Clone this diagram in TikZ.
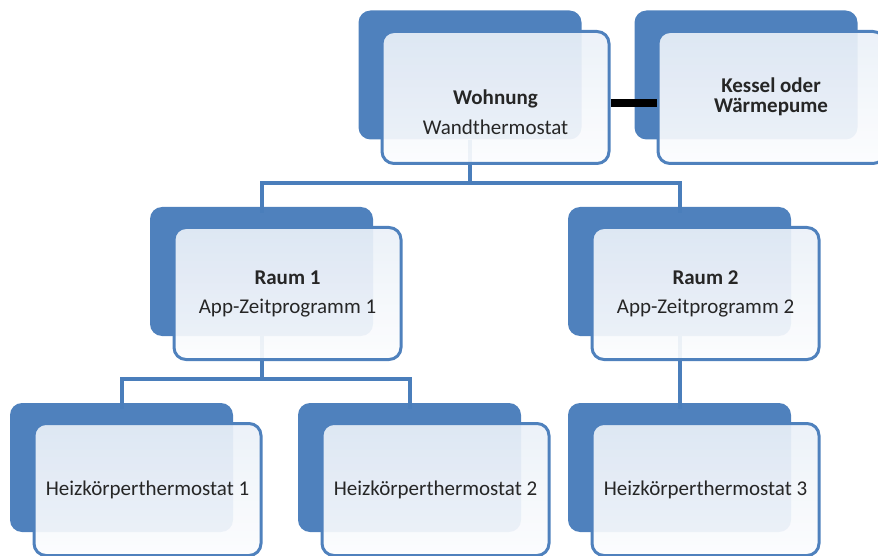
\documentclass[tikz,border=0pt]{standalone}
\usepackage{fontspec}
\setmainfont{Carlito}
\definecolor{obl}{HTML}{4F81BD}
\definecolor{conn}{HTML}{4A7EBB}
\definecolor{frontfill}{HTML}{EAF0F8}
\definecolor{frontlow}{HTML}{FCFDFE}
\tikzset{
  backbox/.style={rectangle, rounded corners=12pt, fill=obl, draw=none,
    minimum width=223pt, minimum height=129pt, inner sep=0pt},
  frontbox/.style={rectangle, rounded corners=12pt, draw=obl, line width=3pt,
    top color=frontfill, bottom color=frontlow, fill opacity=0.92, draw opacity=1,
    minimum width=227pt, minimum height=132pt, inner sep=0pt},
  boxtext/.style={align=center, font=\fontsize{21}{20}\selectfont, text=black!85, inner sep=0pt},
  connector/.style={draw=conn, line width=4pt},
  link/.style={draw=black, line width=8pt},
}
\begin{document}
\begin{tikzpicture}[x=1pt,y=-1pt]
\useasboundingbox (0,0) rectangle (878,556);
% back boxes
\node[backbox] (wohnB) at (470,75) {};
\node[backbox] (kessB) at (746,75) {};
\node[backbox] (raum1B) at (261.5,271.5) {};
\node[backbox] (raum2B) at (679.5,271.5) {};
\node[backbox] (h1B) at (121.5,467.5) {};
\node[backbox] (h2B) at (409.5,467.5) {};
\node[backbox] (h3B) at (679.5,467.5) {};
% connectors
\draw[connector] (wohnB.south) -- ++(0,43) -| ([yshift=-6pt]raum1B.north);
\draw[connector] (wohnB.south) -- ++(0,43) -| ([yshift=-6pt]raum2B.north);
\draw[connector] (raum1B.south) -- ++(0,43) -| ([yshift=-6pt]h1B.north);
\draw[connector] (raum1B.south) -- ++(0,43) -| ([yshift=-6pt]h2B.north);
\draw[connector] (raum2B.south) -- ([yshift=-6pt]h3B.north);
% front boxes
\node[frontbox] (wohnF) at (495.5,97.5) {};
\node[frontbox] (kessF) at (771.5,97.5) {};
\node[frontbox] (raum1F) at (287.5,293.5) {};
\node[frontbox] (raum2F) at (705.5,293.5) {};
\node[frontbox] (h1F) at (147.5,489.5) {};
\node[frontbox] (h2F) at (435.5,489.5) {};
\node[frontbox] (h3F) at (705.5,489.5) {};
% black link
\draw[link] ([yshift=-6pt]wohnF.east) -- ([yshift=-6pt]kessF.west);
% texts
\node[boxtext] (wohnT) at (495.5,112) {\textbf{Wohnung}\\[10pt]Wandthermostat};
\node[boxtext] (kessT) at (771,97) {\textbf{Kessel oder}\\\textbf{Wärmepume}};
\node[boxtext] (raum1T) at (287.5,294) {\textbf{Raum 1}\\[9pt]App-Zeitprogramm 1};
\node[boxtext] (raum2T) at (705.5,294) {\textbf{Raum 2}\\[9pt]App-Zeitprogramm 2};
\node[boxtext] (h1T) at (147.5,490) {Heizkörperthermostat 1};
\node[boxtext] (h2T) at (435.5,490) {Heizkörperthermostat 2};
\node[boxtext] (h3T) at (705.5,490) {Heizkörperthermostat 3};
\end{tikzpicture}
\end{document}
